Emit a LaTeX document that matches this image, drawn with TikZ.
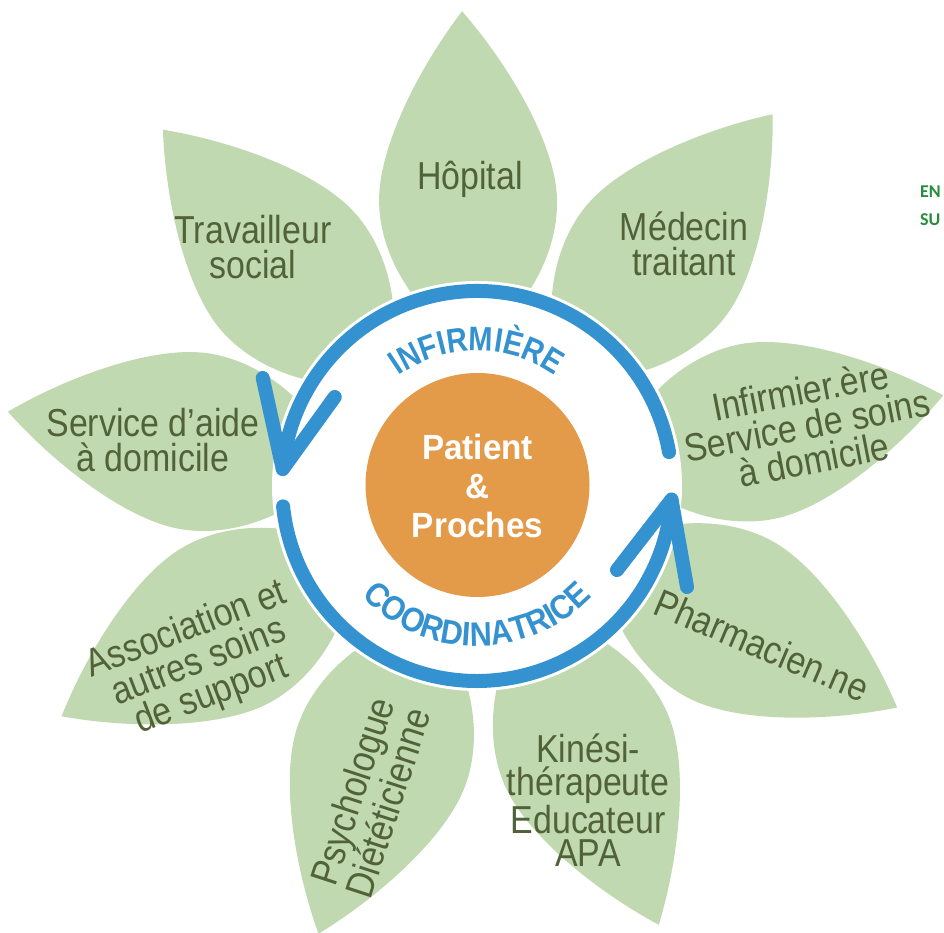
\documentclass[tikz,border=0pt]{standalone}
\usepackage{fontspec}
\setmainfont{Liberation Sans}[FakeStretch=0.87]
\newfontfamily\centerfont{Liberation Sans}[FakeStretch=0.95]
\newfontfamily\ringfont{Liberation Sans}[FakeStretch=0.85]
\newfontfamily\ringfontwide{Liberation Sans}[FakeStretch=0.9]
\newfontfamily\cutfont{Carlito}
\usetikzlibrary{decorations.text}
\definecolor{petalgreen}{RGB}{192,217,176}
\definecolor{leaftext}{RGB}{82,98,56}
\definecolor{ringblue}{RGB}{51,146,207}
\definecolor{coreorange}{RGB}{227,155,73}
\definecolor{cutgreen}{RGB}{40,140,60}
\begin{document}
\begin{tikzpicture}[x=1pt,y=1pt,
  leaflabel/.style={text=leaftext, align=center, font=\fontsize{39}{35}\selectfont, inner sep=0pt},
  ringline/.style={draw=ringblue, line width=14pt, line cap=round, line join=round},
  cutlabel/.style={anchor=west, text=cutgreen, font=\cutfont\bfseries\fontsize{18}{18}\selectfont, inner sep=0pt}]
\useasboundingbox (0,0) rectangle (944,933);
\clip (0,0) rectangle (944,933);
\begin{scope}[shift={(477,447)}]
  \foreach \a in {11,51.5,91.8,131.4,171,209,250.5,292.5,332.2} {
    \fill[petalgreen, rotate=\a] (140,0) .. controls (165,47) and (224,89) .. (285,89)
      .. controls (340,89) and (420,45) .. (475,0)
      .. controls (420,-45) and (340,-89) .. (285,-89)
      .. controls (224,-89) and (165,-47) .. (140,0) -- cycle;
  }
  \fill[white] (0,0) circle[radius=205];
  \node[circle, fill=coreorange, minimum size=224pt, inner sep=0pt] (core) at (0.5,1) {};
  \node[text=white, align=center, inner sep=0pt, font=\centerfont\bfseries\fontsize{35}{39}\selectfont] (patient) at (0.5,0) {Patient\\\&\\Proches};
  % upper arc with arrow
  \draw[ringline] (10:195) arc[start angle=10, end angle=175, radius=195];
  \coordinate (tipA) at (175:195);
  \draw[ringline] (tipA) ++(-20,91) -- (tipA) -- ++(52,72);
  % lower arc with arrow
  \draw[ringline] (186:195) arc[start angle=186, end angle=356, radius=195];
  \coordinate (tipB) at (356:195);
  \draw[ringline] (tipB) ++(-54.5,-70.4) -- (tipB) -- ++(15.5,-87.4);
  % curved labels
  \path[decorate, decoration={text along path, text align=center,
    text={|\ringfont\bfseries\fontsize{34}{34}\selectfont\color{ringblue}|INFIRMIÈRE}}]
    (150:135) arc[start angle=150, end angle=30, radius=135];
  \path[decorate, decoration={text along path, text align=center,
    text={|\ringfontwide\bfseries\fontsize{34}{34}\selectfont\color{ringblue}|COORDINATRICE}}]
    (205:160) arc[start angle=205, end angle=335, radius=160];
\end{scope}
\node[leaflabel] (hop) at (470,754) {Hôpital};
\node[leaflabel] (med) at (684,689) {Médecin\\traitant};
\node[leaflabel] (trav) at (253,686) {Travailleur\\social};
\node[leaflabel] (aide) at (153,493) {Service d’aide\\à domicile};
\node[leaflabel, rotate=11] (ssiad) at (807,508) {Infirmier.ère\\Service de soins\\à domicile};
\node[leaflabel, rotate=-23] (pharma) at (762,288) {Pharmacien.ne};
\node[leaflabel, font=\fontsize{39}{33}\selectfont] (kine) at (588,133) {Kinési-\\thérapeute\\Educateur\\APA};
\node[leaflabel, rotate=72] (psy) at (370,136) {Psychologue\\Diététicienne};
\node[leaflabel, rotate=21] (asso) at (199,270) {Association et\\autres soins\\de support};
\node[cutlabel] (cutA) at (920,741) {EN};
\node[cutlabel] (cutB) at (920,713) {SU};
\end{tikzpicture}
\end{document}
